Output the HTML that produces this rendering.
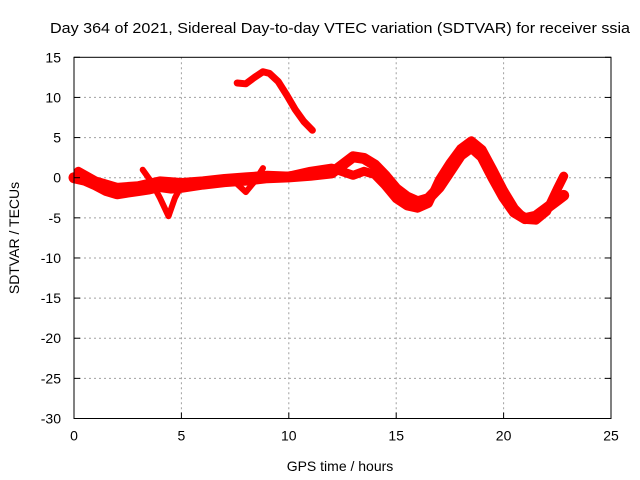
<!DOCTYPE html>
<html><head><meta charset="utf-8"><style>
body{margin:0;background:#fff}
svg{display:block;font-family:"Liberation Sans",sans-serif}
</style></head><body>
<svg id="chart" width="640" height="480" viewBox="0 0 640 480" xmlns="http://www.w3.org/2000/svg">
<rect width="640" height="480" fill="#fff"/>
<text x="50" y="33" font-size="15" textLength="580" lengthAdjust="spacingAndGlyphs" fill="#000">Day 364 of 2021, Sidereal Day-to-day VTEC variation (SDTVAR) for receiver ssia</text>
<text x="340" y="471" font-size="14" text-anchor="middle" fill="#000">GPS time / hours</text>
<text transform="translate(19,238) rotate(-90)" font-size="14" text-anchor="middle" fill="#000">SDTVAR / TECUs</text>
<g id="grid"></g><g id="series"></g><g id="axes"></g>
</svg>
<script>
const xTicks=[0,5,10,15,20,25];
const yTicks=[15,10,5,0,-5,-10,-15,-20,-25,-30];
const arcHours=[7.6,8.0,8.4,8.8,9.1,9.5,9.9,10.3,10.7,11.1];
const arcValues=[11.8,11.7,12.5,13.2,13.0,12.0,10.3,8.5,7.0,5.9];
const bandHours=[0,0.5,1,1.5,2,2.5,3,3.5,4,4.5,5,6,7,8,9,10,11,12,12.5,13,13.5,14,14.5,15,15.5,16,16.5,17,17.5,18,18.5,19,19.5,20,20.5,21,21.5,22,22.5,22.8];
const bandValues=[0,-0.3,-0.9,-1.6,-2,-1.8,-1.6,-1.4,-1.1,-1.3,-1.2,-0.8,-0.5,-0.3,0,0.1,0.3,0.6,1.6,2.6,2.4,1.6,0.2,-1.4,-2.4,-3,-2.6,-1.2,0.8,2.8,3.8,2.6,0,-2.4,-4.3,-5.1,-4.8,-3.8,-2.8,-2.2];
const band2Hours=[0.2,1,2,3,4,5,6,7,8,9,10,11,12,13,13.5,14,14.5,15,15.5,16,16.5,17,17.5,18,18.5,19,19.5,20,20.5,21,21.5,22,22.5,22.8];
const band2Values=[0.8,-0.4,-1.2,-1.0,-0.4,-0.6,-0.4,-0.1,0.1,0.3,0.2,0.8,1.2,0.3,0.8,0.4,-1,-2.6,-3.5,-3.8,-3.2,-0.3,1.8,3.6,4.6,3.5,1,-1.6,-3.8,-5.2,-5.3,-4.2,-1.4,0.2];
const band3Hours=[3.2,3.6,4.0,4.4,4.7,5.0];
const band3Values=[1,-0.5,-2.5,-4.8,-2.5,-1];
const band4Hours=[7.6,8.0,8.4,8.8];
const band4Values=[-0.8,-1.8,-0.5,1.2];

const X0=74,X1=611,Y0=57.3,Y1=418.5;
const xs=h=>X0+(h-0)/25*(X1-X0);
const ys=v=>Y0+(15-v)/45*(Y1-Y0);
const NS="http://www.w3.org/2000/svg";
function mk(t,a,p){const e=document.createElementNS(NS,t);for(const k in a)e.setAttribute(k,a[k]);p.appendChild(e);return e;}
const grid=document.getElementById('grid'),axes=document.getElementById('axes'),ser=document.getElementById('series');
xTicks.forEach(t=>{
  if(t>0&&t<25){const l=mk('line',{x1:xs(t),x2:xs(t),y1:Y0,y2:Y1,stroke:'#a0a0a0','stroke-dasharray':'2,3','stroke-width':1},grid);
  
  }
  const tk=mk('line',{x1:xs(t),x2:xs(t),y1:Y1,y2:Y1-6,stroke:'#000'},axes);
  
  
  const tx=mk('text',{x:xs(t),y:Y1+22,'font-size':14,'text-anchor':'middle'},axes);tx.textContent=t;
  
  
});
yTicks.forEach(t=>{
  if(t<15&&t>-30){const l=mk('line',{x1:X0,x2:X1,y1:ys(t),y2:ys(t),stroke:'#a0a0a0','stroke-dasharray':'2,3','stroke-width':1},grid);
  
  }
  const tk=mk('line',{x1:X0,x2:X0+6,y1:ys(t),y2:ys(t),stroke:'#000'},axes);
  
  
  const tk2=mk('line',{x1:X1,x2:X1-6,y1:ys(t),y2:ys(t),stroke:'#000'},axes);
  
  
  const tx=mk('text',{x:X0-13,y:ys(t)+5,'font-size':14,'text-anchor':'end'},axes);tx.textContent=t;
  
  
});
const fr=mk('rect',{x:X0,y:Y0,width:X1-X0,height:Y1-Y0,fill:'none',stroke:'#000','stroke-width':1},axes);


function series(hs,vs,w,name){
  const pts=hs.map((h,i)=>xs(h).toFixed(1)+','+ys(vs[i]).toFixed(1)).join(' ');
  const p=mk('polyline',{points:pts,fill:'none',stroke:'#ff0000','stroke-width':w,'stroke-linejoin':'round','stroke-linecap':'round'},ser);
  
  
}
series(arcHours,arcValues,7,'series-upper-arc');
series(bandHours,bandValues,11,'series-band-1');
series(band2Hours,band2Values,9,'series-band-2');
series(band3Hours,band3Values,6,'series-band-3');
series(band4Hours,band4Values,6,'series-band-4');
</script>
</body></html>
